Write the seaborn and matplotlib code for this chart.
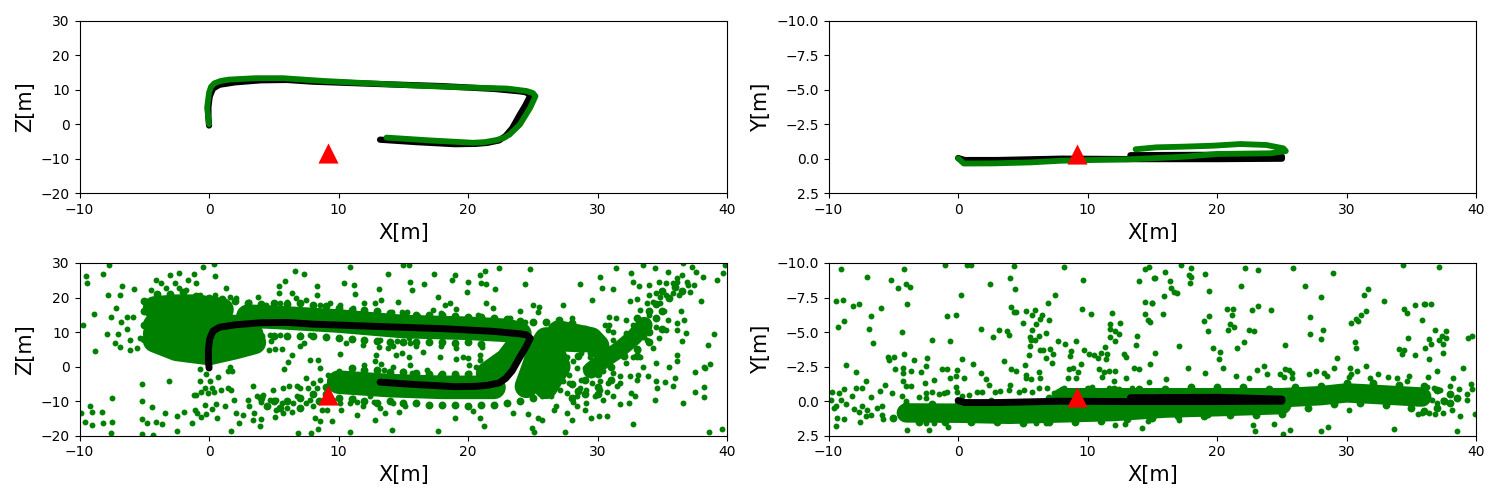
import numpy as np
import pandas as pd
import matplotlib
matplotlib.use('Agg')
import matplotlib.pyplot as plt
import seaborn as sns

# camera position
cam_x = [9.2]
cam_y = [-0.33]
cam_z = [-8.3]

# estimated trajectory (black) and ground truth (green), top views
traj_xz_black = [(0,-0.4),(-0.05,2),(-0.05,5),(0.05,8),(0.3,10.3),(0.8,11.4),(2,12.1),(4,12.7),(6,12.8),(8,12.3),(11,11.9),(14,11.5),
                 (18,11),(22,10.2),(24,9.5),(24.5,9.2),(24.8,8.2),(24.4,5.3),(24,2.8),(23.4,-1.2),(22.9,-3.4),(22.4,-4.7),(21.5,-5.4),(20.6,-5.7),(19,-5.8),(16,-5.2),(13.2,-4.5)]
traj_xz_green = [(0,0),(-0.15,4.75),(0,9.1),(0.15,10.8),(0.4,11.8),(0.9,12.5),(1.56,12.9),(3.6,13.3),(5.7,13.3),(8.8,12.5),(11.4,12),(15.2,11.3),(19.1,10.7),
                 (23,10.3),(24.5,9.6),(25,9),(25.2,8.1),(24.8,4.8),(24,-0.1),(23.2,-3),(22.8,-3.9),(22.2,-4.6),(21.3,-5.2),(20.4,-5.4),(17,-4.7),(13.7,-3.9)]
traj_xy_black = [(0,-0.05),(0.5,0.1),(3,0.1),(8,0),(13,0.03),(20,0.03),(25,0),(25,-0.15),(20,-0.28),(13.3,-0.25)]
traj_xy_green = [(0,-0.02),(0.44,0.35),(2.75,0.34),(5.58,0.27),(7.9,0.15),(10.2,0.1),(13,0.05),(14.8,-0.02),(17.4,-0.14),(20,-0.34),
                 (24.1,-0.39),(25.3,-0.55),(25.1,-0.75),(23.8,-0.99),(21.8,-1.06),(19.7,-0.94),(17.4,-0.87),(15.3,-0.82),(13.7,-0.68)]

# map points, X/Z view: centre lines of the solid parts of the cloud
solid_xz = [
    [(-4.2,17),(-2.5,17.5),(-1,17.5),(1,16.5)],
    [(-4.2,12),(-2,12),(0,12),(2.5,11.5)],
    [(-4.2,9.5),(-1,9),(3.3,9.3)],
    [(-4.2,7.5),(-2.5,5),(0,3.8),(2,5.5),(3.5,7)],
    [(3,14.6),(5,14.3),(10,13.2),(15,11.6),(20,11.1),(23,10.5),(24,9.5)],
    [(10,-4.5),(12,-5),(14,-5.5),(18,-6),(22,-6)],
    [(24.5,-5.7),(25,-0.5),(25.5,5),(26,8),(29,7.5)],
    [(26.5,5),(27,0),(26.5,-3),(26,-6)],
    [(21.5,-2),(23,2),(24,7)],
    [(27,10),(29.5,8),(30,6)],
]
solid_xz_arm = [(29.5,-1),(30.7,2.5),(31.7,5),(32.8,8.5),(33.6,12)]
# map points, X/Z view: clumps along the edges of the solid parts
clump_xz = [(-5,19),(-4,21),(-3,21),(-2,21.5),(-1,20.5),(0,20),(1,19.5),(2,19),(3,18.5),(4,18),(5,18.5),(6,18.2),(7,18.4),(8,17.8),(9,17.5),(10,17),
            (11,16.5),(12,16.5),(13,16),(14,15.5),(15,15),(16,15),(17,15),(18,15),(19,14.8),(20,14.5),(21,14.5),(22,14),(23,13.8),(24,13.2),(25,13),(26,13),(27,13.5),(28,12.5),(29,11),
            (4,9),(5,8.8),(6,9),(7,9),(8,8.8),(9,8.5),(10,8.3),(11,8),(12,7.6),(13,7.3),(14,7.2),(15,7),(16,7),(17,7.2),(18,7),(19,6.8),(20,7.2),(21,6.5),
            (11,-0.5),(12,-1),(13,-1),(14,-1.5),(15,-1.5),(16,-1.8),(17,-2),(18,-2.2),(19,-2),(20,-2),(21,-1.5),
            (9,-8),(10,-9),(11,-9.5),(12,-10),(13,-10.5),(14,-10),(15,-10.5),(16,-10.5),(17,-11),(18,-11),(19,-11),(20,-11.5),(21,-11),(22,-11),(23,-10.5),(24,-10),(25,-9),(26,-7),
            (4,-9),(5,-10),(6,-10),(7,-9),(8,-8),(9,-6),(8.5,-10),(7,-12),(5.5,-12),(4.5,-11.5),
            (26,-3),(27,-3),(28,-5),(28.5,-7),(29,-8),(30,-6),(31,-4),(30,-2),(29,-4),(28,-9),(30,-8),(27.5,1),(28.5,3),(29.5,4),(30,1),(31,0),(32,3),(33,5),(33,3),(34,7),(33.5,9),
            (34,10),(35,11),(34.5,14),(34,16),(33,14),(35,16),(34.5,18),(35.5,20),(36.5,22),(35,22),(36,23),(-5,12),(-5,16),(-5,8)]
# map points, X/Z view: scattered points
sparse_xz = [(-7.7,29.4),(-9.5,26.3),(-8.2,26.8),(-9.4,24.1),(-6.7,23.4),(-7.8,20.8),(-6.9,20.8),(-5.8,22.4),(-8.9,15.3),(-9.7,12),
             (-7.6,14.5),(-7.2,16.9),(-7.9,9.5),(-6.8,13),(-6.3,14.5),(-5.9,14.5),(-6.3,10.8),(-7,9.5),(-7.3,6.8),(-6.9,5.6),(-6.1,4.7),
             (-8.8,4.5),(-5.6,5.3),(-6.1,7.8),(-5.3,8.2),(-5.2,-5.1),(-3.1,-4.2),(-7.5,-9.1),(-5.2,-10),(-4.4,-11.7),(-9.2,-11.5),(-9,-13),
             (-8.3,-13.2),(-9.9,-13.4),(-9.6,-16),(-9,-17),(-8.2,-16.3),(-7.5,-16),(-7.6,-19.2),(-5.2,-15.2),(-4.8,-16.3),(-4.1,-16),
             (-3.6,-16.6),(-3.4,-13.4),(-2.5,-14.2),(-1.9,-13.2),(-1.3,-16.3),(-2.5,-18.7),(-5.2,-19.4),(-4.3,-19.9),(-1.1,-12.5),(-0.9,-13.4),
             (-0.6,-14.7),(-0.3,-11),(-0.2,-13.6),(0.5,-10.8),(0.2,-12.2),(0.6,-14.9),(1.2,-11.3),(1.9,-9.6),(-0.2,-2.2),(-0.7,-0.7),(0.7,-3),
             (0.1,-4.3),(-0.7,-4.3),(1.5,-1.4),(1.8,-1.4),(1.6,0),(-0.3,-6.2),(0.2,-6.2),(-0.6,-7.2),(-1,-8.2),(-1.2,-8.2),(-0.1,-7.7),(0.4,-7.2),
             (0.95,-6.9),(1.5,-6.2),(1.7,-6.9),(-0.46,28.7),(0.39,29.7),(0.46,26.2),(-3,26.5),(-2.3,27),(-1.2,26.7),(-1.6,25.1),(-1,24.3),(-4.1,25.1),
             (-3.7,24.1),(-2.65,24.3),(-3.3,22.7),(-4.5,22.2),(-2.3,22.7),(-1.75,22.2),(-0.7,20.8),(0.44,20.8),(1.3,22.7),(3.8,20.3),(5.4,23.2),
             (5.4,21.2),(5.85,24.9),(6.6,27.8),(7.3,26.7),(6.4,21.2),(8.3,23.2),(8.3,20.8),(10.4,24.1),(11.2,23.6),(11.3,20.9),(10.9,28.7),(13.8,26.7),
             (13.1,22.4),(14.6,18.6),(15,29.4),(15.4,29.4),(17.35,26.8),(15.5,24.4),(15.65,22.2),(16.6,24),(19,26.5),(18.75,25.1),(20,24.4),(19.9,21.5),
             (17.7,20.1),(20.9,26.5),(21.3,27.7),(22.4,28.5),(21,24.1),(21.35,24),(22.1,22.4),(24.8,28.2),(24.4,23.8),(21.4,18.3),(21.9,16.9),(24,16),
             (25,17.9),(25.5,17.4),(25.4,15.7),(27.3,17.9),(28,14),(28.6,23.8),(29.6,19.3),(30.2,25.9),(30.3,22.7),(31.2,22.4),(31.4,28.5),(32.6,27),
             (32.7,24.6),(33.2,23.2),(33.5,29.4),(34.4,28.5),(35.4,27.3),(36.6,29.9),(37.25,28.7),(37.6,27.5),(38.1,25.9),(39.2,25.1),(39.7,27),(39.8,29.4),
             (38,19),(32.5,19.1),(33,19.5),(30.9,14.5),(31.4,14),(30.55,12.1),(30.9,12.1),(30.8,10.5),(31.2,9.9),(39,9.4),(38.5,6.2),(37.5,-1.6),(38.7,0.7),
             (38.2,0),(38.3,-0.4),(38.2,-5.9),(37.5,-7.4),(38.2,-8.8),(36.6,-10.5),(39.6,-18),(38.6,-19),(32.7,-16.5),(34.4,-9.7),(35.8,-5.5),(36,-3.3),
             (35.2,-4.5),(34.5,-4.3),(34.6,-6.2),(33.9,-2.8),(33.1,-2.4),(32.5,-2.8),(33,-3.8),(33.5,0),(34.5,1),(35.5,-0.1),(36.1,3.4),(36.1,1.5),(36.8,9.7),
             (36.55,7.3),(35.3,10.6),(36.1,10.6),(36.7,13.5),(36.1,12.6),(35.4,13.5),(36.4,16),(35.1,16),(32.9,-8.6),(32.6,-7.7),(32.4,-10.5),(31.7,-10.8),
             (30.75,-14.2),(30.1,-14.2),(29.5,-14.9),(29,-12.5),(28.4,-11.5),(27.6,-13.4),(28,-15.4),(26.8,-11.3),(27.5,-19),(25.1,-19),(24.9,-17.8),(25.4,-14.9),
             (25.7,-15.4),(26.6,-12.5),(24.6,-13.6),(23.5,-13.4),(21.2,-17.1),(17.7,-18.6),(20.4,-12.8),(19,-14.9),(20.9,-14.9),
             (2.1,-13.4),(2.6,-13.9),(2.3,-16.3),(1.7,-18.6),(3.4,-5.7),(3,-9.6),(3.1,-11.5),(3.7,-8.4),(4.2,-8.1),(4,-10.1),(3.5,-13.4),(3.4,-15.4),(4,-15.2),
             (3.9,-17.3),(4.9,-6.9),(5.2,-9.6),(4.7,-9.6),(5.7,-6.2),(6.2,-5.7),(6.8,-5.7),(7,-6.2),(5.6,-10.5),(6,-12),(5.2,-12.5),(5.7,-13.4),(6.5,-10.5),
             (6.8,-8.6),(6.4,-13),(5.1,-14.6),(6.9,-19.2),(7.9,-19.2),(8.4,-18),(8.6,-15.7),(9.5,-15.7),(8.2,-14.9),(7.5,-10.5),(8,-11.5),(8.7,-12.5),(7.8,-9.6),
             (7.5,-3.3),(8,-4.6),(7.65,-6.2),(8.3,-6.2),(8.6,-3.8),(9.2,-2.4),(10.9,-19),(14.1,-18.3),(12.8,-15.4),(10.2,-12.5),(11.4,-13.9),(11.9,-11.5),
             (10.1,-10.5),(10.9,-10.5),(11.4,-10.1),(12.7,-10.1),(13.2,-12),(13.6,-13.4),(14.7,-13),(15.1,-11.5),(14.2,-10.5),(12.4,-8.6),(9.6,-9.6),(9.1,-12.5),(11.1,-9.1),
             (7.8,2),(8.4,2),(8.6,-0.4),(5.8,-0.7),(6.1,1.2),(6.4,3.4),(5.6,5),(5.1,5),(4.6,4.7),(7,6),(7.3,6.8),(10.1,3.6),(12.9,3.4),(12.8,1.5),(13.3,0.7),(13.1,5.6),
             (14.4,3.4),(14.9,3.9),(14.2,6),(13.8,5.3),(15.4,2.9),(10.9,-1.9),(12,0.5),(14.2,0),(13.5,-0.9),(10,-1.4),
             (3.4,7.8),(3.9,8.2),(4.8,7.3),(5.5,9.2),(7,9.2),(7.8,9.2),(10.6,6.8),(11.9,6.3),(13.2,7.8),(14.5,7.3),(15.4,8.2),(3.7,9.5),(4.7,9.2),
             (1.6,20.3),(2.1,19.8),(3.1,18.8),(4.4,17.9),(5.5,18.4),(6,18.8),(6.75,19.8),(7.5,19.3),(8.6,17.9),(9.3,18.4),(10.1,17.9),(11.1,16.9),(12,18.4),(12.8,18.4),
             (13.3,19.3),(14.1,15.9),(14.9,15.9),(15.3,15.9),(16.1,14.7),(17.3,16.4),(17.9,15.5),(18.2,17.9),(18.6,18.3),(19.1,16.6),(20,14.5),(20.8,15),(21.9,14),(23.2,14),(24.4,13),
             (15.5,6.8),(16,6),(16.5,4.2),(17.8,2.9),(17.9,6),(19.1,5.3),(19.6,2.9),(20,2.5),(19.1,2.3),(20.9,3.4),(20.1,0.5),(20.6,0),(21.1,5.8),(15.5,0.5),(15,-1.4),(16.8,-0.9),
             (17.8,-2.4),(19.1,-2.4),(20.1,-1.9),(20.9,2),(15.7,-1.9),
             (27.6,2.9),(28.1,1.5),(27.5,0.2),(27.8,-2.4),(28.4,-0.4),(29,-0.4),(27.3,-4.3),(27.8,-4.6),(27.1,-6.7),(27.6,-7.7),(26.4,-8.6),(25.7,-8.6),(28.6,-6.2),(29.1,-6.7),
             (29.6,-4.8),(30.2,-6.7),(30.7,-7.2),(31.5,-5.7),(31.7,-4.8),(31.2,-8.6),(30.4,-9.6),(29.8,-8.6),(29.1,-10.5),(28.4,-8.6),(28.1,-10.1),(28.7,-3.8),(29.5,-2.4),(29.9,0),
             (30.4,-1.4),(31.2,-1.9),(31.7,-2.8),(30.8,-4.8),(30.2,-4.3),(29.4,2.9),(28.7,3.9),(29.5,3.9),(29.9,2),(32.7,2.9),(33.3,2.9),(32.2,1),(33.1,4.9),(34.3,5.3),(33.8,7.8),
             (34.7,8.2),(34.5,11.6),(33.9,11.1),(32.2,13.5),(33.3,16.4),(33.8,18.3),(34.3,18.8),(34.8,20.3),(35.3,20.8),(34,20.8),(35.8,21.2),(36.3,20.8),(37.1,21.7),(37.4,23.6),
             (36.9,24.6),(36.1,24.6),(35.3,24.1),(34.7,24.6),(34,23.6),(35.8,24.1),(36.5,26.5),(36.1,25.6),(37,23.6),(34.5,21.2),(34.8,18.3),(34,15),(32.7,12.1),(32.2,9.7),(31.2,7.8),(30.4,6.8)]

# map points, X/Y view: centre lines of the solid parts of the cloud
solid_xy = [
    [(-4,0.85),(0,0.87),(4,0.95),(8,0.85),(12,0.75),(16,0.5),(20,0.4),(25,0.25)],
    [(8,-0.25),(25,-0.25),(28,-0.4),(30,-0.6),(32,-0.5),(35.8,-0.3)],
]
# map points, X/Y view: clumps along the edges of the solid parts
clump_xy = [(-5,1.2),(-3,1.5),(-1,1.5),(1,1.5),(3,1.5),(5,1.6),(7,1.5),(9,1.5),(11,1.4),(13,1.3),(15,1.2),(17,1.1),(19,1.1),(21,1),(23,1),(25,0.9),(27,0.5),(29,0.2),(31,0.1),(33,0.3),(35,0.5),(36,0.7),(37,0.5),(38,0.1),
            (-4,0.3),(-2,0.2),(0,0.2),(2,0.2),(4,0.2),(6,0.1),(7,-0.2),(8,-0.8),(10,-0.9),(12,-0.9),(14,-0.9),(16,-0.9),(18,-1),(20,-1),(22,-1),(24,-0.9),(26,-1),(28,-1.1),(30,-1.3),(32,-1.3),(34,-1.2),(36,-1.1),(37,-0.8),(38,-0.5),(37.5,0),(38.5,-0.2)]
# map points, X/Y view: scattered points
sparse_xy = [(-9.07,-9.55),(-7.04,-8.97),(-4.2,-9.55),(-1.03,-9.88),(0.7,-9.83),(1,-9.83),(4.3,-9.79),(8.15,-9.69),(14.45,-9.55),(14.7,-9.69),(14,-8.68),(15.1,-8.9),(-5.2,-8.75),
             (-4.65,-8.17),(-4.03,-8.46),(-3.73,-8.24),(2.44,-8.46),(3.99,-8.9),(4.37,-8.1),(9.62,-8.75),(0.26,-7.67),(7.46,-7.67),(6.92,-7.09),(-3.98,-7.02),(-9.46,-7.23),(-8.9,-7.3),
             (-8.12,-6.87),(-7.66,-7.02),(-5.96,-6.73),(-6.73,-6.15),(-8.82,-5.79),(-9.28,-5.35),(-6.89,-5.21),(-4.34,-4.99),(-6.58,-4.2),(-2.03,-4.41),(-0.64,-4.34),(-0.87,-6.15),(-0.18,-6.22),
             (1.75,-5.21),(3.14,-5.14),(2.67,-4.63),(3.75,-5.06),(3.91,-4.77),(4.06,-6.8),(4.3,-6.44),(4.47,-6.44),(5.22,-6.51),(5.91,-6.58),(5.68,-6.22),(6.45,-6.22),(6.3,-5.93),(7,-5.86),
             (6,-5.57),(5,-5.64),(5.68,-5.14),(6.76,-4.92),(5.53,-4.63),(5.6,-4.41),(5.91,-4.41),(6.22,-4.7),(5.53,-3.98),(7.69,-4.34),(8.23,-4.12),(9.08,-4.34),(9.54,-6.65),(10.23,-6.29),
             (11.85,-6.36),(12.47,-5.64),(11.7,-5.57),(11.7,-5.21),(12.08,-5.06),(12.39,-4.85),(11.7,-4.63),(12.08,-4.34),(13.78,-4.7),(13.7,-4.05),(14.4,-7.16),(14.94,-7.09),(14.4,-6.29),
             (14.63,-5.86),(14.78,-5.71),(-5.42,-3.23),(-4.96,-3.23),(-5.35,-2.99),(-4.19,-3.45),(-3.42,-2.97),(-2.42,-3.11),(-2.5,-2.51),(-4.88,-2.32),(-4.27,-2.39),(-3.65,-2.17),(-2.88,-2.1),
             (-1.26,-2.32),(-0.87,-2.32),(-0.1,-2.24),(0.28,-3.04),(1.13,-2.68),(3.52,-2.9),(4.06,-2.32),(4.45,-2.17),(1.75,-2.03),(-8.66,-2.6),(-7.89,-2.1),(-7.12,-1.45),(-5.65,-1.16),(-4.27,-2.03),
             (-4.27,-1.45),(-4.03,-1.09),(-3.65,-1.09),(-2.57,-1.3),(-1.87,-1.52),(-0.64,-1.67),(-0.18,-1.81),(0.44,-1.67),(2.13,-1.59),(2.37,-1.16),(3.99,-1.16),(5.22,-1.88),(5.14,-2.6),(5.45,-3.35),
             (6.3,-3.69),(6.53,-3.69),(7.07,-3.76),(7.3,-3.4),(6.76,-3.11),(7.23,-2.75),(6.22,-2.1),(6.3,-1.67),(5.6,-1.59),(5.22,-1.67),(8.61,-3.28),(8.69,-3.64),(9.46,-2.68),(8.54,-2.32),(8.84,-2.39),
             (8.46,-1.67),(9.08,-1.67),(9.23,-2.1),(9.69,-3.69),(10.08,-3.4),(10.46,-3.33),(10.77,-3.11),(11,-3.47),(11.31,-3.91),(11.47,-3.4),(11.39,-3.04),(10.85,-2.32),(11.24,-2.1),(11.62,-2.17),
             (12.08,-2.17),(11.08,-1.74),(12.01,-1.45),(12.78,-3.4),(12.93,-3.18),(13.55,-2.39),(13.93,-2.32),(14.78,-2.68),(12.93,-1.67),(14.7,-1.38),(-9.46,1.83),(-9.36,1.25),(-8.82,1.32),(-7.58,1.54),
             (-3.96,2.09),(-2.26,2.09),(-0.8,1.88),(-2.49,1.59),(-1.87,1.59),(12.08,1.73),(12.85,1.66),(14.17,1.95),(14.63,1.44),(5.99,1.59),(6.76,1.59),(-5.81,1.3),
             (-9.72,-0.7),(-9.2,-0.58),(-8.82,-0.87),(-9.84,-0.1),(-9.46,0.38),(-9.07,-0.1),(-8.66,0.21),(-9.6,0.5),(-8.17,-0.39),(-7.87,-0.94),(-7.4,-0.94),(-6.73,-0.29),(-6.04,-0.73),(-5.11,-0.58),
             (-8.05,0.58),(-7.66,0.75),(-7.45,0.38),(-7.02,0.62),(-6.76,0.99),(-6.25,0.5),(-5.86,0.38),(-5.86,0.99),(-7.15,1.1),
             (-4.32,-0.34),(-4.06,0.02),(-3.03,-0.3),(-2.47,-0.58),(-2.5,-0.22),(-2,-0.7),(-1.5,-0.53),(-1.1,-0.58),(-0.85,-0.7),(-0.2,-1.06),(-0.07,-0.7),(0.31,-0.34),(0.82,-0.46),(1.47,-0.7),(1.85,-0.63),
             (2.5,-0.1),(2.88,-0.65),(3.27,-0.77),(3.91,-0.82),(4.68,-0.7),(5.07,-0.82),(5.7,-0.7),(6.22,-0.94),(6.86,-0.94),(7.38,-0.58),(7.77,-0.7),(8.15,-0.94),(10.33,-1.06),(11.62,-0.94),(12.4,-0.87),(13.42,-0.94),(14.06,-0.7),
             (17.2,-9.86),(17.99,-9.62),(17.8,-9.14),(17.99,-8.97),(15.96,-9.33),(15.18,-8.9),(16.34,-8.68),(16.44,-8.17),(16.65,-7.93),(16.88,-7.81),(15.88,-7.6),(17.88,-8.53),(19.04,-9.18),(19.35,-7.95),
             (22.13,-9.62),(23.13,-9.47),(21.82,-8.32),(25.83,-9.62),(28.91,-9.26),(26.75,-8.32),(27.99,-7.52),(34.31,-9.83),(37.16,-9.69),(31.61,-8.1),(31.3,-7.67),(32.84,-7.23),(35.24,-6.94),(35.93,-7),
             (36.08,-7),(36.47,-7),(34.39,-6.65),(34.62,-6.36),(35.85,-5.86),(31.46,-6.51),(31.07,-6.22),(30.69,-5.93),(30.84,-5.79),(30.3,-5.64),(14.98,-7.09),(15.8,-6.29),(20.74,-6.65),(21.2,-6.65),(21.12,-6.22),
             (22.66,-6.58),(23.13,-6.87),(24.13,-6.58),(19.35,-6.15),(18.96,-5.79),(19.27,-5.06),(20.97,-5.57),(21.28,-5.35),(20.81,-5.14),(22.43,-5.14),(22.82,-5.06),(27.2,-6.08),(27.2,-4.85),(28.14,-5.14),
             (27.99,-4.49),(22.05,-4.27),(21.51,-3.83),(17.03,-3.98),(15.18,-3.47),(19.66,-3.83),(20.2,-3.55),(20.12,-3.04),(20.43,-2.39),(25.21,-4.05),(30.61,-4.27),(30.69,-3.83),(29.22,-3.11),(28.99,-2.39),
             (30.22,-2.39),(31.46,-2.53),(30.76,-2.17),(30.35,-1.95),(30.15,-1.74),(34,-3.76),(34.46,-3.69),(34.23,-3.4),(35.24,-3.33),(34.7,-4.56),(36.08,-3.83),(36.47,-4.12),(36.32,-4.48),(36.39,-3.04),
             (36.85,-5.14),(37.63,-5.06),(37.09,-4.41),(37.39,-4.7),(37.63,-4.56),(37.47,-4.12),(37.47,-3.47),(39.4,-4.56),(39.71,-4.7),(37,-2.17),(39,-2.39),(17.73,-2.39),(19.04,-2.03),(21.43,-1.81),(22.43,-1.67),
             (23.05,-2.24),(23.59,-2.53),(23.82,-1.95),(25.21,-2.32),(25.52,-2.24),(25.78,-2.03),(24.88,-1.95),(25.13,-1.74),(25.78,-1.67),(27.06,-1.95),(27.63,-2.17),(28.22,-2.03),(28.45,-1.81),(32.38,-1.95),
             (33.15,-1.74),(33.85,-1.67),(34.77,-1.81),(36.24,-1.74),(38.24,-1.67),(38.01,-1.09),(39.6,-1.23),(39.25,-0.51),(38.63,-0.87),(39.66,-0.87),(39.25,-0.1),(38.71,1.08),(39.91,0.94),(38.12,0.62),
             (37.47,0.86),(36.83,0.94),(36.39,0.86),(35.85,0.86),(35.47,0.94),(16.01,-1.59),(19.27,0.98),(17.03,1.35),(22.74,1.73),(22.9,2.17),(24.36,1.66),(25.06,2.38),(25.6,2.09),(27.99,2.17),(28.53,1.88),
             (33.62,2.02),(38.55,2.17),(30.2,0.62),(31.8,-1.67),(34.64,-1.43),(36.2,-1.06),(36.7,-0.94),(37.2,-0.82),(37.47,-0.1),(36.96,0.14),(36.57,-0.1),(35.42,0.14),(36.2,-0.46)]

x_lim = (-10, 40)
z_lim = (-20, 30)
y_lim = (2.5, -10)


def draw_path(ax, points, color, width):
    df = pd.DataFrame(points, columns=['a', 'b'])
    sns.lineplot(data=df, x='a', y='b', sort=False, estimator=None, color=color, linewidth=width,
                 solid_capstyle='round', solid_joinstyle='round', ax=ax)


def draw_cloud(ax, points, size):
    df = pd.DataFrame(points, columns=['a', 'b'])
    sns.scatterplot(data=df, x='a', y='b', color='green', s=size, linewidth=0, ax=ax)


def draw_camera(ax, cam_v):
    sns.scatterplot(x=cam_x, y=cam_v, marker='^', color='red', s=210, linewidth=0, zorder=5, ax=ax)


def finish(ax, ylim, ylabel):
    ax.set_xlim(*x_lim)
    ax.set_ylim(*ylim)
    ax.set_xlabel('X[m]', fontsize=15)
    ax.set_ylabel(ylabel, fontsize=15)


fig, axes = plt.subplots(2, 2, figsize=(15, 5))

# trajectories only
ax = axes[0, 0]
draw_path(ax, traj_xz_black, 'black', 4.5)
draw_path(ax, traj_xz_green, 'green', 4.2)
draw_camera(ax, cam_z)
finish(ax, z_lim, 'Z[m]')

ax = axes[0, 1]
draw_path(ax, traj_xy_black, 'black', 4.5)
draw_path(ax, traj_xy_green, 'green', 4.2)
draw_camera(ax, cam_y)
finish(ax, y_lim, 'Y[m]')

# map points with the trajectory on top
ax = axes[1, 0]
for band in solid_xz:
    draw_path(ax, band, 'green', 17)
draw_path(ax, solid_xz_arm, 'green', 12)
draw_cloud(ax, clump_xz, 32)
draw_cloud(ax, sparse_xz, 18)
draw_path(ax, traj_xz_black, 'black', 5)
draw_camera(ax, cam_z)
finish(ax, z_lim, 'Z[m]')

ax = axes[1, 1]
for band in solid_xy:
    draw_path(ax, band, 'green', 14)
draw_cloud(ax, clump_xy, 32)
draw_cloud(ax, sparse_xy, 18)
draw_path(ax, traj_xy_black, 'black', 5)
draw_camera(ax, cam_y)
finish(ax, y_lim, 'Y[m]')

plt.tight_layout()
plt.savefig('out.png', dpi=100)
